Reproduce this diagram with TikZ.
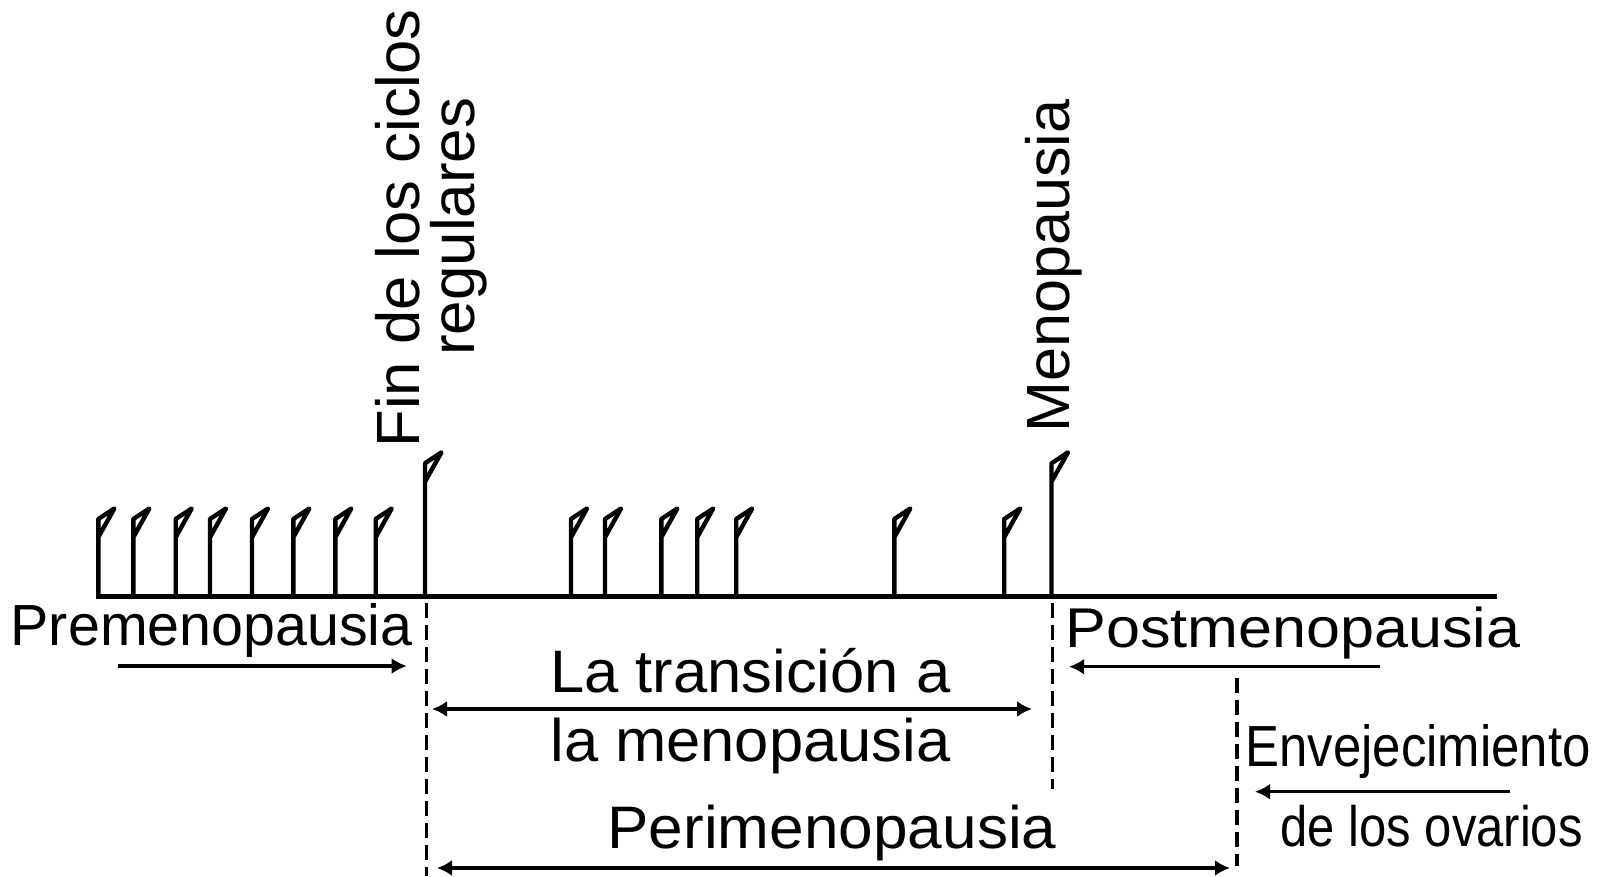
\documentclass[tikz,border=0pt]{standalone}
\usepackage{fontspec}
\setmainfont{Liberation Sans}
\usepackage{graphicx}
\usetikzlibrary{arrows.meta}
\newcommand\fitT[3]{{\fontsize{#1}{#1}\selectfont\resizebox{#2pt}{\height}{#3}}}
\begin{document}
\begin{tikzpicture}[x=1pt,y=-1pt,
  axisline/.style={line width=4.8pt, line cap=butt},
  flagline/.style={line width=4.4pt, line join=round, line cap=butt},
  dashline/.style={line width=3.6pt, dash pattern=on 15pt off 7pt},
  arr/.style={line width=3.2pt, -{Latex[length=15pt,width=16pt]}},
  darr/.style={line width=3.2pt, {Latex[length=15pt,width=16pt]}-{Latex[length=15pt,width=16pt]}},
  lbl/.style={inner sep=0pt, outer sep=0pt, anchor=base},
]
\useasboundingbox (0,0) rectangle (1610,876);

% timeline
\coordinate (axL) at (96,596.5);
\coordinate (axR) at (1497,596.5);
\draw[axisline] (axL) -- (axR);

% short flags
\foreach \x in {98.3,133.3,175.7,210,252,293.3,335.3,375.7,571,605,661.3,697.2,736.2,894.3,1004.2}{
  \draw[flagline] (\x,598) -- (\x,519) -- ++(16,-10.5) -- (\x,537.3);
}
% tall flags
\coordinate (endreg) at (425,596.5);
\coordinate (meno) at (1051.5,596.5);
\foreach \x in {425,1051.5}{
  \draw[flagline] (\x,598) -- (\x,463.3) -- ++(16.5,-11) -- (\x,481.7);
}

% dashed lines
\coordinate (d1a) at (426.5,603);
\coordinate (d1b) at (426.5,876);
\coordinate (d2a) at (1052.5,603);
\coordinate (d2b) at (1052.5,789);
\coordinate (d3a) at (1237,678);
\coordinate (d3b) at (1237,866);
\draw[dashline] (d1a) -- (d1b);
\draw[dashline] (d2a) -- (d2b);
\draw[dashline] (d3a) -- (d3b);

% arrows
\coordinate (a1s) at (118.3,666);
\coordinate (a1e) at (406.7,666);
\draw[arr] (a1s) -- (a1e);
\coordinate (a2s) at (432,709);
\coordinate (a2e) at (1032,709);
\draw[darr] (a2s) -- (a2e);
\coordinate (a3s) at (1380,666.7);
\coordinate (a3e) at (1069,666.7);
\draw[arr] (a3s) -- (a3e);
\coordinate (a4s) at (1510,791.7);
\coordinate (a4e) at (1255,791.7);
\draw[arr] (a4s) -- (a4e);
\coordinate (a5s) at (437,868);
\coordinate (a5e) at (1230,868);
\draw[darr] (a5s) -- (a5e);

% labels
\node[lbl] (pre) at (211.7,645) {\fitT{58}{402}{Premenopausia}};
\node[lbl] (post) at (1293,647) {\fitT{56}{455}{Postmenopausia}};
\node[lbl] (trans1) at (750.4,692.7) {\fitT{60}{400}{La transición a}};
\node[lbl] (trans2) at (750.4,761.7) {\fitT{60}{400}{la menopausia}};
\node[lbl] (peri) at (832,848) {\fitT{60}{449}{Perimenopausia}};
\node[lbl] (env1) at (1418,766.7) {\fitT{58}{345}{Envejecimiento}};
\node[lbl] (env2) at (1431.7,846.7) {\fitT{57}{302}{de los ovarios}};
\node[lbl, rotate=90] (fin1) at (419.3,228.3) {\fitT{61}{438}{Fin de los ciclos}};
\node[lbl, rotate=90] (fin2) at (474,226.7) {\fitT{61}{258}{regulares}};
\node[lbl, rotate=90] (menolbl) at (1069,265.9) {\fitT{61}{333}{Menopausia}};
\end{tikzpicture}
\end{document}
